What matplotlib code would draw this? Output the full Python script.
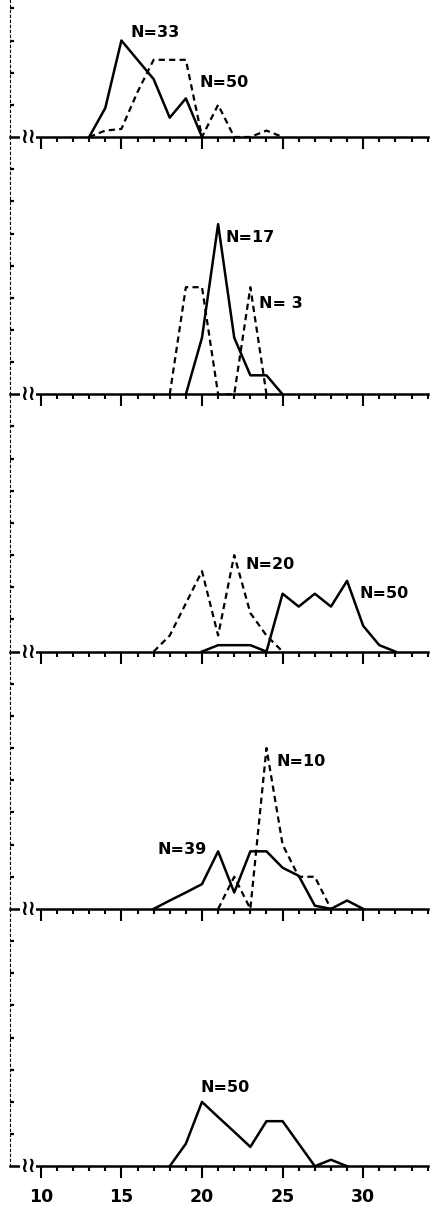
import matplotlib
matplotlib.use('Agg')
import matplotlib.pyplot as plt

# percent frequency per length class
# panel 1
x1_solid = [13, 14, 15, 16, 17, 18, 19, 20]
y1_solid = [0, 9, 30, 24, 18, 6, 12, 0]                       # N=33
x1_dash = [13, 14, 15, 16, 17, 18, 19, 20, 21, 22, 23, 24, 25]
y1_dash = [0, 2, 2.5, 14, 24, 24, 24, 0, 10, 0, 0, 2, 0]      # N=50
# panel 2
x2_solid = [19, 20, 21, 22, 23, 24, 25]
y2_solid = [0, 17.6, 52.9, 17.6, 5.9, 5.9, 0]                 # N=17
x2_dash = [18, 19, 20, 21, 22, 23, 24]
y2_dash = [0, 33.3, 33.3, 0, 0, 33.3, 0]                      # N=3
# panel 3
x3_solid = [20, 21, 22, 23, 24, 25, 26, 27, 28, 29, 30, 31, 32]
y3_solid = [0, 2, 2, 2, 0, 18, 14, 18, 14, 22, 8, 2, 0]       # N=50
x3_dash = [17, 18, 19, 20, 21, 22, 23, 24, 25]
y3_dash = [0, 5, 15, 25, 5, 30, 12, 5, 0]                     # N=20
# panel 4
x4_solid = [17, 18, 19, 20, 21, 22, 23, 24, 25, 26, 27, 28, 29, 30]
y4_solid = [0, 2.6, 5.1, 7.7, 17.9, 5.1, 17.9, 17.9, 12.8, 10.3, 1, 0, 2.6, 0]  # N=39
x4_dash = [21, 22, 23, 24, 25, 26, 27, 28]
y4_dash = [0, 10, 0, 50, 20, 10, 10, 0]                       # N=10
# panel 5
x5_solid = [18, 19, 20, 21, 22, 23, 24, 25, 26, 27, 28, 29]
y5_solid = [0, 7, 20, 15.3, 10.7, 6, 14, 14, 7, 0, 2, 0]      # N=50

major_ticks = [10, 15, 20, 25, 30]
minor_ticks = list(range(10, 35))

W, H = 435, 1213
fig = plt.figure(figsize=(W / 100, H / 100), dpi=100)

unit = 32.16          # px per 10 %
baselines = [137, 394.3, 651.6, 908.9, 1166.2]

panels = [
    (x1_solid, y1_solid, x1_dash, y1_dash,
     [(17.1, 32.5, 'N=33'), (21.35, 17.1, 'N=50')]),
    (x2_solid, y2_solid, x2_dash, y2_dash,
     [(23.0, 48.8, 'N=17'), (24.9, 28.3, 'N= 3')]),
    (x3_solid, y3_solid, x3_dash, y3_dash,
     [(24.25, 27.2, 'N=20'), (31.28, 18.0, 'N=50')]),
    (x4_solid, y4_solid, x4_dash, y4_dash,
     [(26.14, 45.7, 'N=10'), (18.77, 18.6, 'N=39')]),
    (x5_solid, y5_solid, None, None,
     [(21.45, 24.5, 'N=50')]),
]

for i, (xs, ys, xd, yd, labels) in enumerate(panels):
    b = baselines[i]
    if i == 0:
        h = b
        top = b / unit * 10
    else:
        h = 8 * unit
        top = 80
    ax = fig.add_axes([10 / W, 1 - b / H, 418 / W, h / H])
    ax.patch.set_visible(False)
    ax.set_xlim(8.09, 34.02)
    ax.set_ylim(0, top)

    ax.plot(xs, ys, color='black', lw=1.8, clip_on=False)
    if xd is not None:
        ax.plot(xd, yd, color='black', lw=1.6, linestyle=(0, (2.8, 1.9)), clip_on=False)

    for lx, ly, txt in labels:
        ax.text(lx, ly, txt, ha='center', va='center', fontsize=11.5,
                fontweight='bold', family='DejaVu Sans')

    for s in ['top', 'right']:
        ax.spines[s].set_visible(False)
    ax.spines['bottom'].set_linewidth(1.8)
    ax.spines['left'].set_linewidth(0.8)
    ax.spines['left'].set_linestyle((0, (2, 2.5)))

    ax.set_xticks(major_ticks)
    ax.set_xticks(minor_ticks, minor=True)
    ax.tick_params(axis='x', which='major', direction='out', length=8.5, width=1.5,
                   pad=7, labelsize=12.5, labelbottom=(i == 4))
    ax.tick_params(axis='x', which='minor', direction='out', length=3.5, width=1.5)
    ax.set_yticks(range(10, int(top) + 1 if i == 0 else 80, 10))
    ax.tick_params(axis='y', direction='in', length=3, width=1.6, labelleft=False)
    if i == 4:
        for t in ax.get_xticklabels():
            t.set_fontweight('bold')

    # axis break mark
    ax.text(9.2, 0, '\u2240\u2240', ha='center', va='center', fontsize=15,
            fontweight='bold', zorder=5, clip_on=False,
            bbox=dict(boxstyle='square,pad=0.0', fc='white', ec='none'))

fig.savefig('out.png', dpi=100)
